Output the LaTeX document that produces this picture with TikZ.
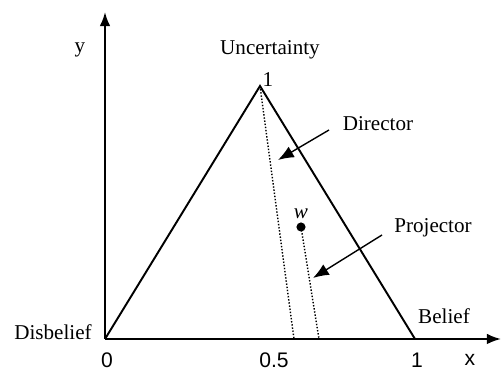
\documentclass[tikz,border=0pt]{standalone}
\usepackage{fontspec}
\setmainfont{Liberation Serif}
\newfontfamily\numfont{Liberation Sans}
\usepackage{tikz}
\usetikzlibrary{calc, positioning, arrows.meta}

\begin{document}
\begin{tikzpicture}[>={Latex[length=8pt,width=6pt]}, line width=1.1pt,
    lbl/.style={font=\fontsize{12}{14}\selectfont, inner sep=1pt},
    num/.style={font=\numfont\fontsize{12}{14}\selectfont, inner sep=1pt},
    proj/.style={line width=0.8pt, densely dotted},
    pointer/.style={line width=0.8pt, -{Latex[length=9pt,width=7pt]}}]
    \useasboundingbox (-2.1,-0.62) rectangle (7.94,6.78);

    % Axes
    \coordinate (O) at (0,0);
    \coordinate (xend) at (7.92,0);
    \coordinate (yend) at (0,6.54);
    \draw[->] (O) -- (xend);
    \draw[->] (O) -- (yend);
    \node[lbl] (ylab) at (-0.5,5.78) {y};
    \node[num] (xlab) at (7.3,-0.42) {x};
    \node[num] (n0) at (0.04,-0.42) {0};
    \node[num] (nhalf) at (3.38,-0.42) {0.5};
    \node[num] (n1) at (6.24,-0.42) {1};

    % Triangle
    \coordinate (U) at (3.1,5.06);
    \coordinate (B) at (6.2,0);
    \draw[line join=miter] (O) -- (U) -- (B);
    \node[lbl] (unc) at (3.3,5.78) {Uncertainty};
    \node[lbl] (one) at (3.26,5.18) {1};
    \node[lbl] (bel) at (6.78,0.46) {Belief};
    \node[lbl] (dis) at (-1.04,0.14) {Disbelief};

    % Director and projector
    \coordinate (D) at (3.78,0);
    \coordinate (P) at (4.28,0);
    \coordinate (w) at (3.92,2.24);
    \fill (w) circle (2.6pt);
    \node[lbl, font=\itshape\fontsize{12}{14}\selectfont] (wlab) at (3.92,2.5) {w};
    \draw[proj] (U) -- (D);
    \draw[proj] (w) -- (P);

    % Labels with arrows
    \node[lbl] (dir) at (5.46,4.3) {Director};
    \node[lbl] (pro) at (6.56,2.22) {Projector};
    \coordinate (dtail) at (4.48,4.18);
    \coordinate (dtip) at (3.46,3.58);
    \coordinate (ptail) at (5.54,2.08);
    \coordinate (ptip) at (4.16,1.22);
    \draw[pointer] (dtail) -- (dtip);
    \draw[pointer] (ptail) -- (ptip);
\end{tikzpicture}
\end{document}
